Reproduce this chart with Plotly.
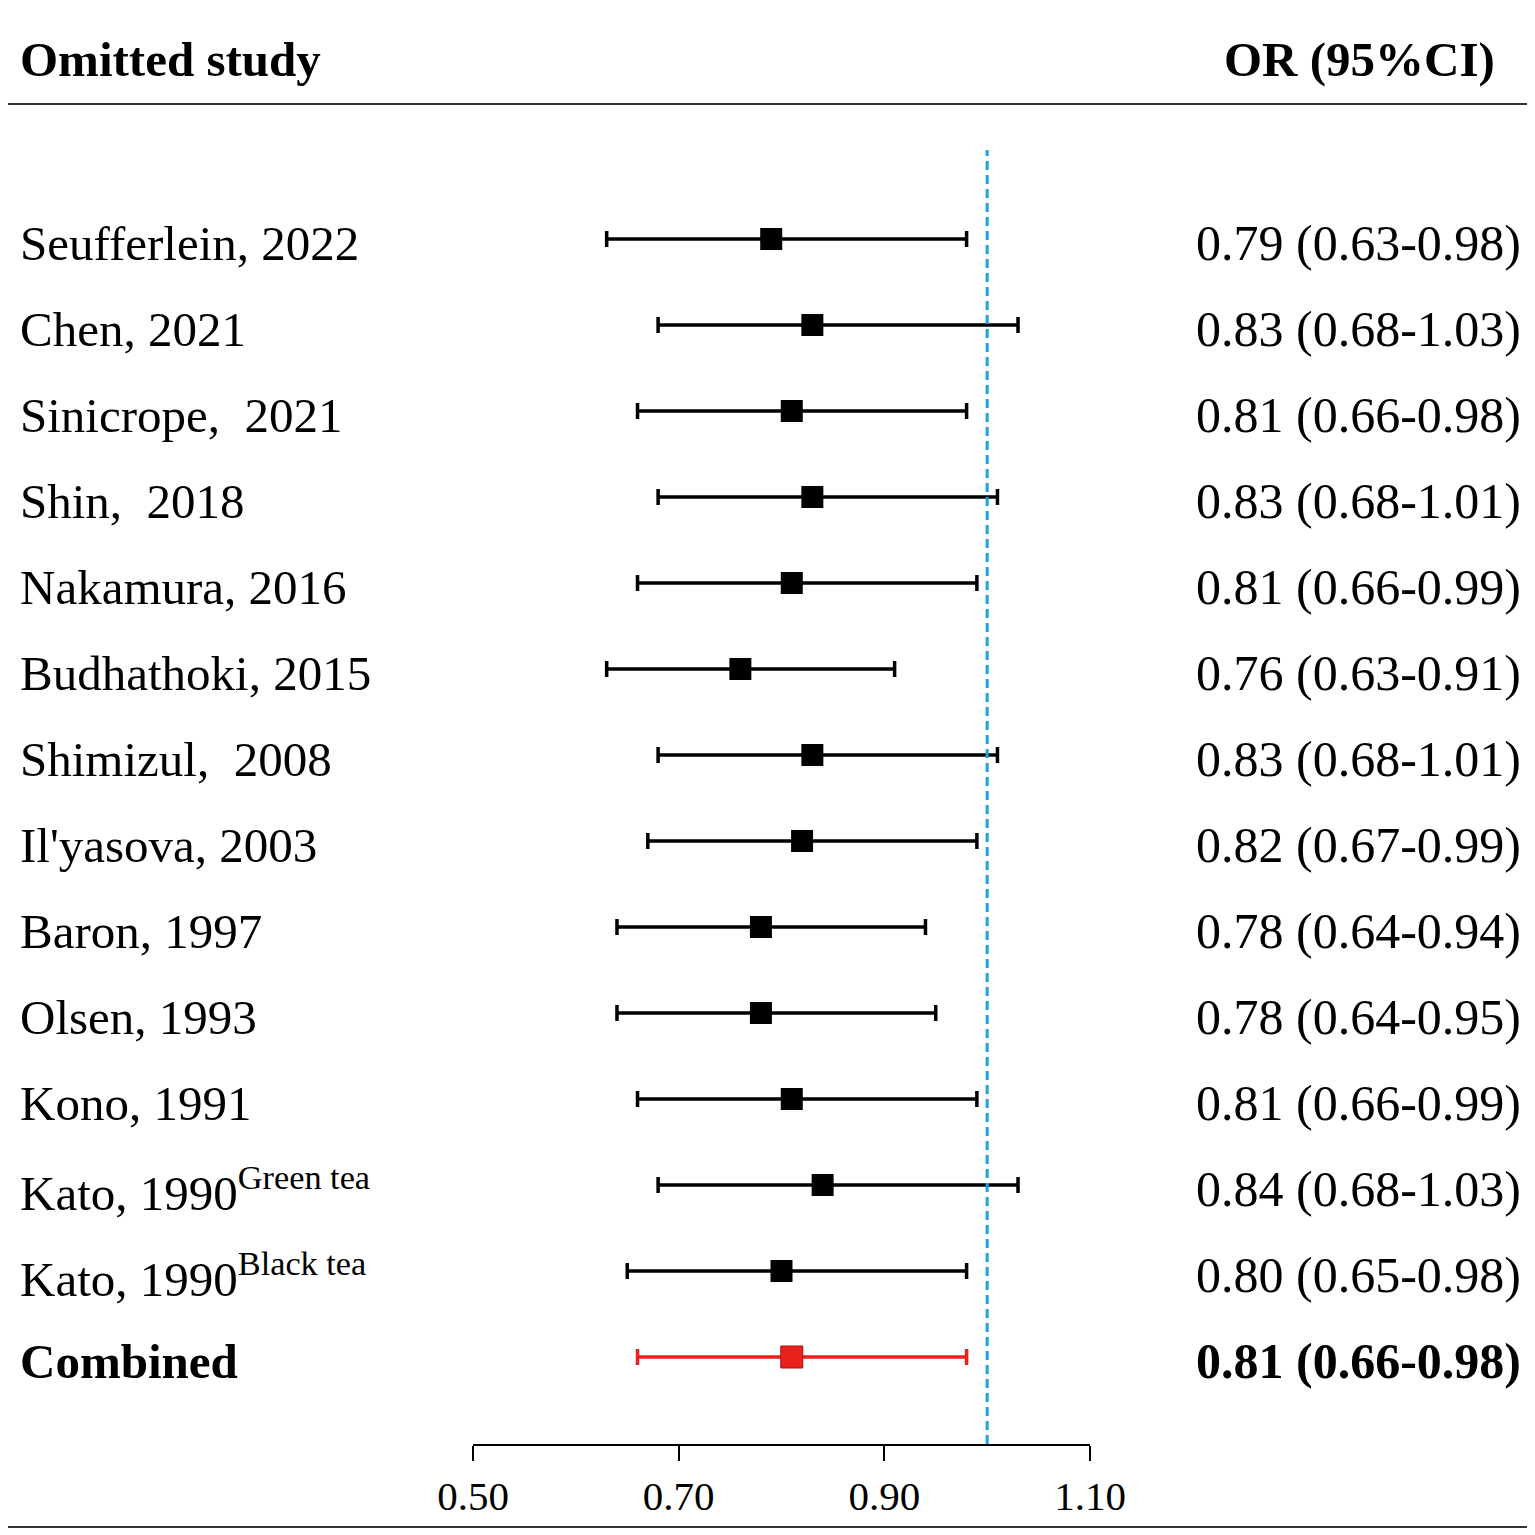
import plotly.graph_objects as go

W, H = 1535, 1535
OFF = 8  # page body margin in the browser

studies = ["Seufferlein, 2022", "Chen, 2021", "Sinicrope,  2021", "Shin,  2018",
           "Nakamura, 2016", "Budhathoki, 2015", "Shimizul,  2008", "Il'yasova, 2003",
           "Baron, 1997", "Olsen, 1993", "Kono, 1991",
           "Kato, 1990<sup>Green tea</sup>", "Kato, 1990<sup>Black tea</sup>", "Combined"]
or_est = [0.79, 0.83, 0.81, 0.83, 0.81, 0.76, 0.83, 0.82, 0.78, 0.78, 0.81, 0.84, 0.80, 0.81]
ci_low = [0.63, 0.68, 0.66, 0.68, 0.66, 0.63, 0.68, 0.67, 0.64, 0.64, 0.66, 0.68, 0.65, 0.66]
ci_high = [0.98, 1.03, 0.98, 1.01, 0.99, 0.91, 1.01, 0.99, 0.94, 0.95, 0.99, 1.03, 0.98, 0.98]
xticks = [0.50, 0.70, 0.90, 1.10]

FONT = "Liberation Serif"
BLACK = "#000000"
RED = "#e8211b"
BLUE = "#1ea0dc"

rows = list(range(len(studies)))
n_study = len(studies) - 1


def px_x(p):
    return (p - OFF) / W


def px_y(p):
    return 1 - (p - OFF) / H


fig = go.Figure()

# individual studies
fig.add_trace(go.Scatter(
    x=or_est[:n_study], y=rows[:n_study], mode="markers",
    marker=dict(symbol="square", size=22, color=BLACK),
    error_x=dict(type="data", symmetric=False,
                 array=[h - o for h, o in zip(ci_high[:n_study], or_est[:n_study])],
                 arrayminus=[o - l for o, l in zip(or_est[:n_study], ci_low[:n_study])],
                 color=BLACK, thickness=3.5, width=8),
    cliponaxis=False, showlegend=False, hoverinfo="skip"))

# combined estimate
fig.add_trace(go.Scatter(
    x=or_est[n_study:], y=rows[n_study:], mode="markers",
    marker=dict(symbol="square", size=22, color=RED, line=dict(color="#b01010", width=1)),
    error_x=dict(type="data", symmetric=False,
                 array=[ci_high[n_study] - or_est[n_study]],
                 arrayminus=[or_est[n_study] - ci_low[n_study]],
                 color=RED, thickness=3.5, width=8),
    cliponaxis=False, showlegend=False, hoverinfo="skip"))

annotations = []
for i, name in enumerate(studies):
    label = name.replace("  ", " \u00a0")
    value = f"{or_est[i]:.2f} ({ci_low[i]:.2f}-{ci_high[i]:.2f})"
    if i == n_study:
        label = f"<b>{label}</b>"
        value = f"<b>{value}</b>"
    annotations.append(dict(x=px_x(18), y=i, xref="paper", yref="y", text=label,
                            xanchor="left", yanchor="middle", showarrow=False, yshift=-4,
                            font=dict(family=FONT, size=49, color=BLACK)))
    annotations.append(dict(x=px_x(1194), y=i, xref="paper", yref="y", text=value,
                            xanchor="left", yanchor="middle", showarrow=False, yshift=-4,
                            font=dict(family=FONT, size=50, color=BLACK)))

annotations.append(dict(x=px_x(18), y=px_y(60), xref="paper", yref="paper",
                        text="<b>Omitted study</b>", xanchor="left", yanchor="middle",
                        showarrow=False, font=dict(family=FONT, size=49, color=BLACK)))
annotations.append(dict(x=px_x(1497), y=px_y(60), xref="paper", yref="paper",
                        text="<b>OR (95%CI)</b>", xanchor="right", yanchor="middle",
                        showarrow=False, font=dict(family=FONT, size=49, color=BLACK)))

shapes = [
    dict(type="line", xref="paper", yref="paper", x0=px_x(5), x1=px_x(1528),
         y0=px_y(104), y1=px_y(104), line=dict(color="#333333", width=2)),
    dict(type="line", xref="paper", yref="paper", x0=px_x(5), x1=px_x(1528),
         y0=px_y(1527), y1=px_y(1527), line=dict(color="#333333", width=2)),
    dict(type="line", xref="x", yref="paper", x0=1.0, x1=1.0,
         y0=px_y(1444), y1=px_y(150), line=dict(color=BLUE, width=3, dash="9px,5px")),
]

fig.update_layout(
    width=W, height=H, margin=dict(l=0, r=0, t=0, b=0, autoexpand=False),
    paper_bgcolor="white", plot_bgcolor="white",
    annotations=annotations, shapes=shapes, showlegend=False,
    xaxis=dict(domain=[px_x(473), px_x(1090)], range=[0.5, 1.1], automargin=False,
               tickvals=xticks, ticktext=[f"{t:.2f}" for t in xticks],
               showline=True, linecolor=BLACK, linewidth=2,
               ticks="outside", ticklen=15, tickwidth=2, tickcolor=BLACK,
               tickfont=dict(family=FONT, size=41, color=BLACK),
               showgrid=False, zeroline=False),
    yaxis=dict(domain=[px_y(1444), px_y(OFF)],
               range=[(1444 - 239) / 86, (OFF - 239) / 86],
               automargin=False, visible=False, showgrid=False, zeroline=False),
)

fig.write_html("out.html")
